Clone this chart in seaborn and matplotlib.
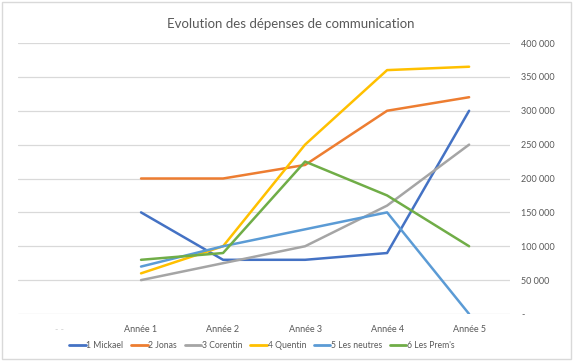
import pandas as pd
import numpy as np
import matplotlib
matplotlib.use('Agg')
import matplotlib.pyplot as plt
import seaborn as sns
from matplotlib.patches import Rectangle

categories = ['- -', 'Année 1', 'Année 2', 'Année 3', 'Année 4', 'Année 5']
series = ['1 Mickael', '2 Jonas', '3 Corentin', '4 Quentin', '5 Les neutres', "6 Les Prem's"]
mickael = [np.nan, 150000, 80000, 80000, 90000, 300000]
jonas = [np.nan, 200000, 200000, 220000, 300000, 320000]
corentin = [np.nan, 50000, 75000, 100000, 160000, 250000]
quentin = [np.nan, 60000, 100000, 250000, 360000, 365000]
neutres = [np.nan, 70000, 100000, 125000, 150000, 0]
prems = [np.nan, 80000, 90000, 225000, 175000, 100000]
colors = ['#4472C4', '#ED7D31', '#A5A5A5', '#FFC000', '#5B9BD5', '#70AD47']
yticks = [0, 50000, 100000, 150000, 200000, 250000, 300000, 350000, 400000]

rows = []
for name, vals in zip(series, [mickael, jonas, corentin, quentin, neutres, prems]):
    for i, v in enumerate(vals):
        if not np.isnan(v):
            rows.append({'pos': i, 'val': v, 'serie': name})
df = pd.DataFrame(rows)

sns.set_theme(style='white')
plt.rcParams['font.family'] = ['Lato', 'DejaVu Sans']

fig = plt.figure(figsize=(5.81, 3.63), dpi=100)
ax = fig.add_axes([0.031, 0.135, 0.847, 0.7465])
sns.lineplot(data=df, x='pos', y='val', hue='serie', hue_order=series,
             palette=colors, linewidth=1.8, ax=ax, legend=True)

ax.set_xlim(-0.5, 5.5)
ax.set_ylim(0, 400000)
ax.set_xticks(range(len(categories)))
ax.set_xticklabels(categories, fontsize=6.5, color='#595959')
ax.get_xticklabels()[0].set_color('#D0D0D0')
ax.set_yticks(yticks)
ax.set_yticklabels(['-' if t == 0 else f'{t:,}'.replace(',', ' ') for t in yticks],
                   fontsize=6.5, color='#595959')
ax.yaxis.tick_right()
ax.tick_params(axis='both', length=0, pad=8)
for t in yticks:
    ax.axhline(t, color='#D9D9D9', lw=0.9, zorder=0)
for s in ax.spines.values():
    s.set_visible(False)
ax.set_xlabel('')
ax.set_ylabel('')

fig.text(0.5, 0.935, 'Evolution des dépenses de communication',
         ha='center', va='center', fontsize=9.5, color='#595959')

leg = ax.legend(loc='center', bbox_to_anchor=(0.496, -0.118), ncol=6, frameon=False,
                fontsize=6.2, handlelength=1.9, handletextpad=0.1, columnspacing=0.9,
                borderpad=0, borderaxespad=0)
for txt in leg.get_texts():
    txt.set_color('#595959')
for line in leg.get_lines():
    line.set_linewidth(2)

fig.patches.append(Rectangle((0.003, 0.012), 0.98, 0.982, transform=fig.transFigure,
                             fill=False, edgecolor='#D9D9D9', lw=1))

fig.savefig('out.png', dpi=100)
